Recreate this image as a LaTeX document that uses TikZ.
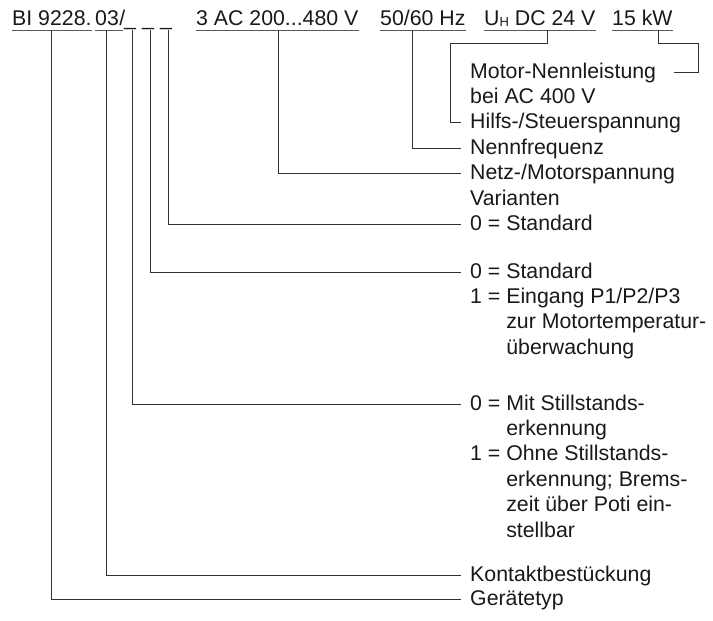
\documentclass[tikz,border=0pt]{standalone}
\usepackage{fontspec}
\setmainfont{Liberation Sans}
\begin{document}
\begin{tikzpicture}[x=1pt,y=-1pt,
  txt/.style={anchor=base west,inner sep=0pt,text=black!90,font=\fontsize{21.3}{25.4}\selectfont},
  ln/.style={draw=black!80,line width=0.9pt},
  ul/.style={draw=black!65,line width=0.9pt}]
\useasboundingbox (0,0) rectangle (713,621);
% top row
\node[txt] (bi) at (12,26) {BI 9228.};
\node[txt] (ot) at (95,26) {03};
\node[txt] (sl) at (ot.base east) {/};
\node[txt] (ua) at (124,26) {\_};
\node[txt] (ub) at (142,26) {\_};
\node[txt] (uc) at (160,26) {\_};
\node[txt] (ac) at (196,26) {3 AC 200...480 V};
\node[txt] (hz) at (380,26) {50/60 Hz};
\node[txt] (dc) at (484,26) {U\raisebox{-1pt}{\fontsize{13}{13}\selectfont H} DC 24 V};
\node[txt] (kw) at (612,26) {15 kW};
\foreach \n in {bi,ac,hz,dc,kw}
  \draw[ul] ([yshift=-4pt]\n.base west) -- ([yshift=-4pt]\n.base east);
\draw[ul] ([yshift=-4pt]ot.base west) -- ([xshift=-2pt,yshift=-4pt]sl.base east);
% labels
\node[txt] (mot) at (470,78) {Motor-Nennleistung};
\node[txt] (bei) at (470,103.4) {bei AC 400 V};
\node[txt] (hil) at (470,128.8) {Hilfs-/Steuerspannung};
\node[txt] (nen) at (470,154.2) {Nennfrequenz};
\node[txt] (net) at (470,179.6) {Netz-/Motorspannung};
\node[txt] (var) at (470,205) {Varianten};
\node[txt] (sa) at (470,230.4) {0 = Standard};
\node[txt] (sb) at (470,278) {0 = Standard};
\node[txt] (ea) at (470,303.4) {1 = Eingang P1/P2/P3};
\node[txt] (eb) at (470,328.8) {\phantom{1 = }zur Motortemperatur-};
\node[txt] (ec) at (470,354.2) {\phantom{1 = }überwachung};
\node[txt] (ma) at (470,410) {0 = Mit Stillstands-};
\node[txt] (mb) at (470,435.4) {\phantom{0 = }erkennung};
\node[txt] (oa) at (470,460.8) {1 = Ohne Stillstands-};
\node[txt] (ob) at (470,486.2) {\phantom{1 = }erkennung; Brems-};
\node[txt] (oc) at (470,511.6) {\phantom{1 = }zeit über Poti ein-};
\node[txt] (od) at (470,537) {\phantom{1 = }stellbar};
\node[txt] (kb) at (470,581) {Kontaktbestückung};
\node[txt] (gt) at (470,605.5) {Gerätetyp};
% connectors
\draw[ln] ([xshift=46pt,yshift=-4pt]kw.base west) |- (698,43) |- ([xshift=18pt,yshift=6pt]mot.base east);
\draw[ln] ([xshift=63pt,yshift=-4pt]dc.base west) |- (450,43) |- ([xshift=-9pt,yshift=6pt]hil.base west);
\draw[ln] ([xshift=32pt,yshift=-4pt]hz.base west) |- ([xshift=-9pt,yshift=6pt]nen.base west);
\draw[ln] ([xshift=82pt,yshift=-4pt]ac.base west) |- ([xshift=-9pt,yshift=6pt]net.base west);
\draw[ln] ([xshift=8pt,yshift=-4pt]uc.base west) |- ([xshift=-9pt,yshift=6pt]sa.base west);
\draw[ln] ([xshift=8pt,yshift=-4pt]ub.base west) |- ([xshift=-9pt,yshift=6pt]sb.base west);
\draw[ln] ([xshift=8pt,yshift=-4pt]ua.base west) |- ([xshift=-9pt,yshift=6pt]ma.base west);
\draw[ln] ([xshift=11pt,yshift=-4pt]ot.base west) |- ([xshift=-9pt,yshift=6pt]kb.base west);
\draw[ln] ([xshift=39pt,yshift=-4pt]bi.base west) |- ([xshift=-9pt,yshift=6pt]gt.base west);
\end{tikzpicture}
\end{document}
